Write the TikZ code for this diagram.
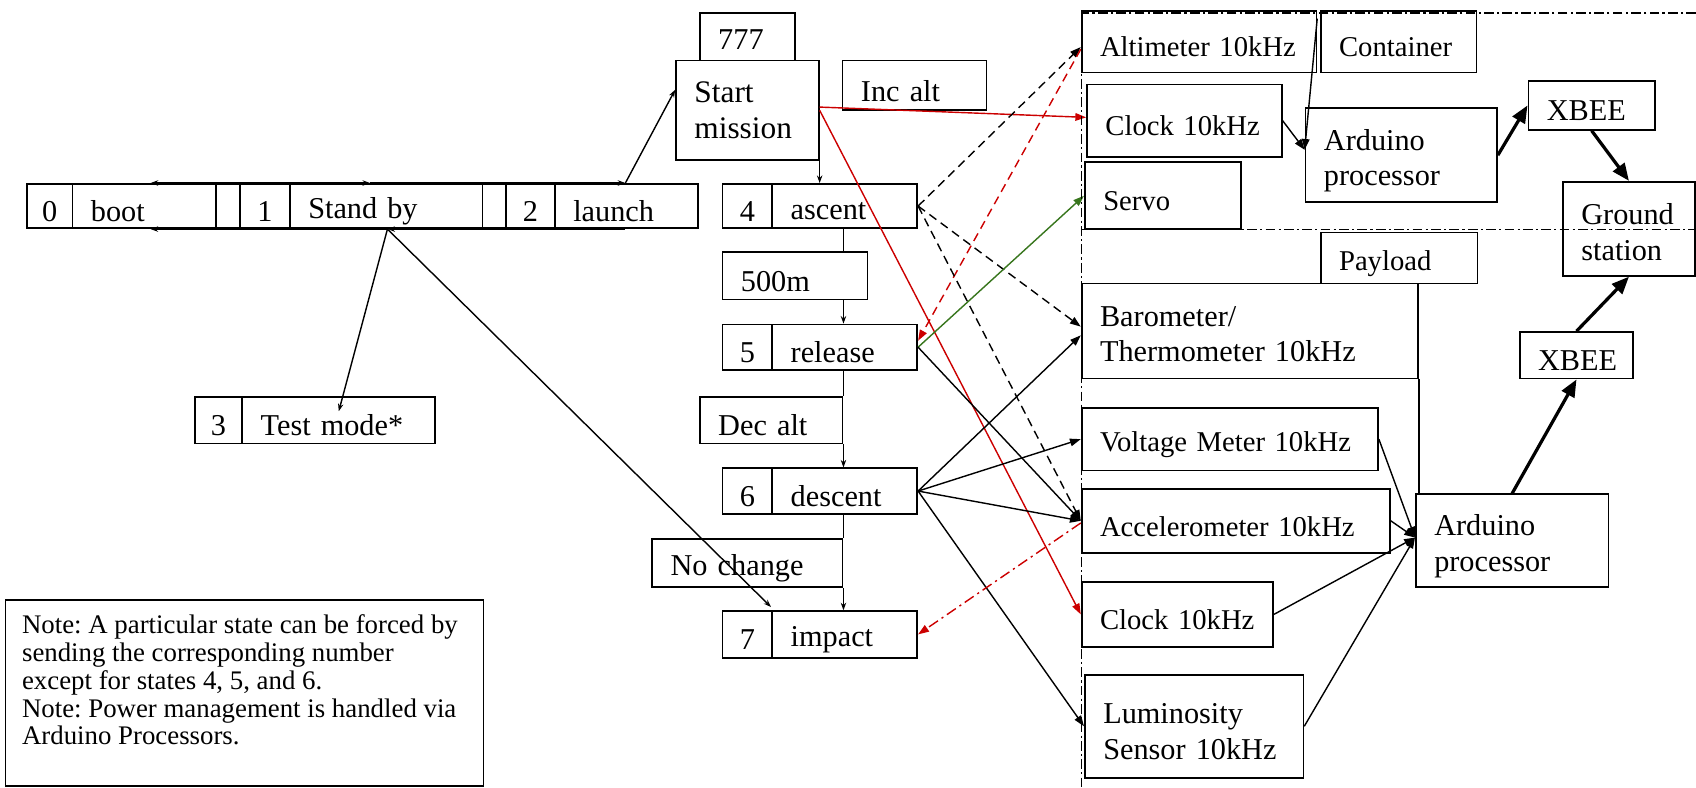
\documentclass[tikz,border=0pt]{standalone}
\usepackage{fontspec}
\setmainfont{Liberation Serif}
\usetikzlibrary{calc,arrows.meta}
\definecolor{myred}{RGB}{204,0,0}
\definecolor{mygreen}{RGB}{56,118,29}
\frenchspacing
\newcommand{\fstate}{\fontsize{28}{33}\selectfont}
\newcommand{\fbig}{\fontsize{29}{34}\selectfont}
\newcommand{\fsens}{\fontsize{26.5}{34}\selectfont}
\newcommand{\fnote}{\fontsize{24.8}{25.7}\selectfont}
\def\bpad{17}
\def\tsh{5}
\newcommand{\B}[7][]{%
  \pgfmathsetmacro\bw{#5-#3}%
  \pgfmathsetmacro\bh{#6-#4}%
  \pgfmathsetmacro\bcx{(#3+#5)/2}%
  \pgfmathsetmacro\bcy{(#4+#6)/2}%
  \pgfmathsetmacro\btw{#5-#3-2*\bpad}%
  \node[box,minimum width=\bw pt,minimum height=\bh pt] (#2) at (\bcx,\bcy) {};
  \node[txt,align=left,text width=\btw pt,#1] (#2t) at ($(#2.center)+(0,\tsh)$) {#7};}
\newcommand{\C}[7][]{%
  \pgfmathsetmacro\bw{#5-#3}%
  \pgfmathsetmacro\bh{#6-#4}%
  \pgfmathsetmacro\bcx{(#3+#5)/2}%
  \pgfmathsetmacro\bcy{(#4+#6)/2}%
  \node[box,minimum width=\bw pt,minimum height=\bh pt] (#2) at (\bcx,\bcy) {};
  \node[txt,align=center,#1] (#2t) at ($(#2.center)+(0,\tsh)$) {#7};}
\tikzset{
  box/.style={draw,line width=1.6pt,inner sep=0pt},
  txt/.style={inner sep=0pt,font=\fstate},
  sens/.style={font=\fsens},
  conn/.style={line width=1.3pt},
  >={Stealth[length=7pt,width=5pt]},
  arr/.style={conn,-{Triangle[length=10pt,width=7pt]}},
  tarr/.style={line width=3pt,-{Triangle[length=16pt,width=13pt]}},
  dsh/.style={dash pattern=on 8pt off 5pt},
  rdd/.style={dash pattern=on 10pt off 4pt on 2pt off 4pt},
  dashdot/.style={line width=1.3pt,dash pattern=on 9pt off 3pt on 2pt off 3pt}
}
\begin{document}
\begin{tikzpicture}[x=1pt,y=-1pt]
\useasboundingbox (0,0) rectangle (1568,728);
\fill[white] (0,0) rectangle (1568,728);
% state row
\C{n0}{25}{170}{67}{211}{0}
\B{boot}{67}{170}{200}{211}{boot}
\C{g1}{200}{170}{222}{211}{}
\C{n1}{222}{170}{268}{211}{1}
\B{sb}{268}{170}{446}{211}{Stand by}
\C{g2}{446}{170}{468}{211}{}
\C{n2}{468}{170}{513}{211}{2}
\B{launch}{513}{170}{645}{211}{launch}
\C{n3}{180}{367}{224}{410}{3}
\B{tm}{224}{367}{402}{410}{Test mode*}
% mission column
\B[yshift=2pt]{c777}{647}{12}{735}{56}{777}
\B[font=\fbig,yshift=5pt]{start}{625}{56}{757}{148}{Start\\mission}
\B{incalt}{779}{56}{912}{102}{Inc alt}
\C{n4}{668}{170}{714}{211}{4}
\B{ascent}{714}{170}{848}{211}{ascent}
\B{m500}{668}{233}{802}{277}{500m}
\C{n5}{668}{300}{714}{342}{5}
\B{release}{714}{300}{848}{342}{release}
\B{decalt}{647}{367}{779}{410}{Dec alt}
\C{n6}{668}{433}{714}{475}{6}
\B{descent}{714}{433}{848}{475}{descent}
\B{nochange}{603}{498}{779}{543}{No change}
\C{n7}{668}{565}{714}{608}{7}
\B{impact}{714}{565}{848}{608}{impact}
% container side
\B[sens]{altim}{1000}{10}{1217}{67}{Altimeter 10kHz}
\B[sens]{contain}{1221}{10}{1365}{67}{Container}
\B[sens]{clockA}{1005}{78}{1185}{145}{Clock 10kHz}
\B{arduA}{1207}{100}{1384}{187}{Arduino\\processor}
\B{xbeeA}{1413}{75}{1530}{120}{XBEE}
\B[sens]{servo}{1003}{150}{1147}{212}{Servo}
\B[yshift=2pt]{ground}{1445}{168}{1567}{255}{Ground\\station}
% payload side
\B[sens]{payload}{1221}{215}{1366}{262}{Payload}
\B[yshift=2pt]{baro}{1000}{262}{1311}{350}{Barometer/\\Thermometer 10kHz}
\B{xbeeB}{1405}{307}{1510}{350}{XBEE}
\B[sens]{volt}{1000}{377}{1274}{435}{Voltage Meter 10kHz}
\B[sens]{accel}{1000}{452}{1285}{511}{Accelerometer 10kHz}
\B{arduB}{1309}{457}{1487}{543}{Arduino\\processor}
\B[sens]{clockB}{1000}{538}{1177}{598}{Clock 10kHz}
\B{lum}{1003}{624}{1205}{719}{Luminosity\\Sensor 10kHz}
% note
\node[box,minimum width=442pt,minimum height=172pt] (note) at (226,641) {};
\node[anchor=north west,inner sep=0pt,align=left,font=\fnote] (notetext) at ($(note.north west)+(16,14)$)
 {Note: A particular state can be forced by\\sending the corresponding number\\except for states 4, 5, and 6.\\Note: Power management is handled via\\Arduino Processors.};
% state row arrows
\coordinate (tA) at ($(boot.north west)+(73,0)$);
\coordinate (tB) at ($(sb.north west)+(75,0)$);
\coordinate (tC) at ($(launch.north west)+(66,0)$);
\coordinate (bA) at ($(boot.south west)+(73,0)$);
\coordinate (bB) at ($(sb.south west)+(91,0)$);
\coordinate (bC) at ($(launch.south west)+(66,0)$);
\draw[conn,<->] (tA) -- (tB);
\draw[conn,->] (tB) -- (tC);
\draw[conn,<-] (bA) -- (bB);
\draw[conn,<-] (bB) -- (bC);
\draw[conn,->] (tC) -- ($(start.west)+(0,-19)$);
\draw[conn,->] (bB) -- ($(tm.north west)+(90,14)$);
\draw[conn,->] (bB) -- ($(n7.north east)+(-2,-3)$);
% mission chain
\draw[conn,->] (start.south east) -- (start.south east |- ascent.north);
\draw[conn] (ascent.south -| decalt.east) -- (m500.north -| decalt.east);
\draw[conn,->] (m500.south -| decalt.east) -- (release.north -| decalt.east);
\draw[conn] (release.south -| decalt.east) -- (decalt.north east);
\draw[conn,->] (decalt.south east) -- (descent.north -| decalt.east);
\draw[conn] (descent.south -| decalt.east) -- (nochange.north east);
\draw[conn,->] (nochange.south east) -- (impact.north -| decalt.east);
% sensor connectors
\draw[arr,myred] ($(start.east)+(0,-3)$) -- ($(clockA.west)+(0,-3)$);
\draw[arr,myred] (start.east) -- (clockB.west);
\draw[arr,dsh] (ascent.east) -- ($(altim.west)+(0,5)$);
\draw[arr,myred,dsh] ($(altim.west)+(0,7)$) -- ($(release.east)+(0,-6)$);
\draw[arr,dsh] (ascent.east) -- ($(baro.west)+(0,-4)$);
\draw[arr,dsh] (ascent.east) -- (accel.west);
\draw[arr,mygreen] (release.east) -- (servo.west);
\draw[arr] (release.east) -- (accel.west);
\draw[arr] (descent.east) -- ($(baro.west)+(0,4)$);
\draw[arr] (descent.east) -- (volt.west);
\draw[arr] (descent.east) -- (accel.west);
\draw[arr] (descent.east) -- (lum.west);
\draw[arr,myred,rdd] ($(accel.west)+(0,2)$) -- (impact.east);
% container processing
\coordinate (cA) at ($(arduA.west)+(0,-5)$);
\draw[arr] ($(altim.north east)+(0,8)$) -- (cA);
\draw[arr] (clockA.east) -- (cA);
\draw[tarr] (arduA.east) -- (xbeeA.west);
\draw[tarr] (xbeeA.south) -- (ground.north);
% payload processing
\coordinate (cB) at ($(arduB.west)+(0,-3)$);
\draw[arr] (volt.east) -- (cB);
\draw[arr] (accel.east) -- (cB);
\draw[arr] (clockB.east) -- (cB);
\draw[arr] (lum.east) -- (cB);
\draw[conn] (baro.south east) -- (baro.south east |- arduB.north);
\draw[tarr] (arduB.north) -- (xbeeB.south);
\draw[tarr] (xbeeB.north) -- (ground.south);
% region boundaries
\coordinate (dTL) at (1000,12);
\coordinate (dTR) at (1568,12);
\coordinate (dBL) at (1000,728);
\coordinate (dML) at (1000,212);
\coordinate (dMR) at (1568,212);
\draw[dashdot] (dTR) -- (dTL) -- (dBL);
\draw[dashdot] (dML) -- (dMR);
\end{tikzpicture}
\end{document}
